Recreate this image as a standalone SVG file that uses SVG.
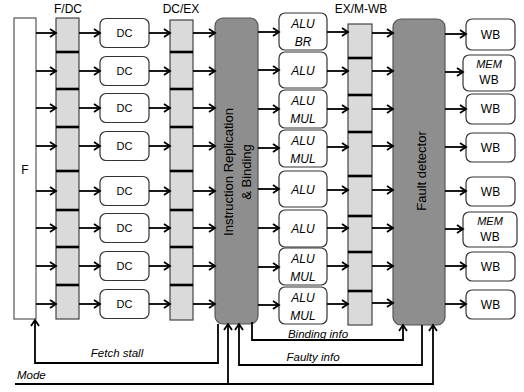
<svg xmlns="http://www.w3.org/2000/svg" width="524" height="392" viewBox="0 0 524 392">
<style>
text{font-family:"Liberation Sans",Arial,sans-serif;fill:#000}
.lbl{font-size:12px;text-anchor:middle}
.box{fill:#fff;stroke:#333;stroke-width:1.2}
.reg{fill:#dadada;stroke:#444;stroke-width:1.2}
.div{stroke:#000;stroke-width:2.6}
.big{fill:#8e8e8e;stroke:#555;stroke-width:1.2}
.t11{font-size:11px;text-anchor:middle}
.t12{font-size:12px;text-anchor:middle}
.it{font-style:italic}
.rt{font-size:13px;text-anchor:middle}
.ln{fill:none;stroke:#000;stroke-width:1.8}
.ar{marker-end:url(#ah)}
</style>
<defs>
<marker id="ah" markerWidth="10" markerHeight="10" refX="7.5" refY="5" orient="auto" markerUnits="userSpaceOnUse">
<path d="M1.5,1 L7.5,5 L1.5,9" fill="none" stroke="#000" stroke-width="1.8"/>
</marker>
</defs>

<g id="labels">
<text class="lbl" x="68" y="13">F/DC</text>
<text class="lbl" x="181" y="13">DC/EX</text>
<text class="lbl" x="361" y="13">EX/M-WB</text>
</g>

<g id="F">
<rect x="14" y="18" width="22" height="301" fill="#fff" stroke="#555" stroke-width="1.2"/>
<text class="t12" x="25" y="174">F</text>
</g>

<g id="FDC">
<rect class="reg" x="56" y="18" width="23" height="301"/>
<line class="div" x1="56" x2="79" y1="52" y2="52"/>
<line class="div" x1="56" x2="79" y1="89" y2="89"/>
<line class="div" x1="56" x2="79" y1="127" y2="127"/>
<line class="div" x1="56" x2="79" y1="171" y2="171"/>
<line class="div" x1="56" x2="79" y1="210" y2="210"/>
<line class="div" x1="56" x2="79" y1="247" y2="247"/>
<line class="div" x1="56" x2="79" y1="285" y2="285"/>
</g>

<g id="DC1"><rect class="box" x="100" y="18.5" width="49" height="29" rx="6"/><text class="t11" x="124.5" y="37">DC</text></g>
<g id="DC2"><rect class="box" x="100" y="56.5" width="49" height="29" rx="6"/><text class="t11" x="124.5" y="75">DC</text></g>
<g id="DC3"><rect class="box" x="100" y="93.5" width="49" height="29" rx="6"/><text class="t11" x="124.5" y="112">DC</text></g>
<g id="DC4"><rect class="box" x="100" y="131.5" width="49" height="29" rx="6"/><text class="t11" x="124.5" y="150">DC</text></g>
<g id="DC5"><rect class="box" x="100" y="176.5" width="49" height="29" rx="6"/><text class="t11" x="124.5" y="195">DC</text></g>
<g id="DC6"><rect class="box" x="100" y="213.5" width="49" height="29" rx="6"/><text class="t11" x="124.5" y="232">DC</text></g>
<g id="DC7"><rect class="box" x="100" y="251.5" width="49" height="29" rx="6"/><text class="t11" x="124.5" y="270">DC</text></g>
<g id="DC8"><rect class="box" x="100" y="289.5" width="49" height="29" rx="6"/><text class="t11" x="124.5" y="308">DC</text></g>

<g id="DCEX">
<rect class="reg" x="170" y="20" width="23" height="300"/>
<line class="div" x1="170" x2="193" y1="52" y2="52"/>
<line class="div" x1="170" x2="193" y1="89" y2="89"/>
<line class="div" x1="170" x2="193" y1="127" y2="127"/>
<line class="div" x1="170" x2="193" y1="171" y2="171"/>
<line class="div" x1="170" x2="193" y1="210" y2="210"/>
<line class="div" x1="170" x2="193" y1="247" y2="247"/>
<line class="div" x1="170" x2="193" y1="285" y2="285"/>
</g>

<g id="IRB">
<rect class="big" x="215" y="18" width="43" height="306" rx="8"/>
<text class="rt" transform="translate(233,172) rotate(-90)">Instruction Replication</text>
<text class="rt" transform="translate(251,172) rotate(-90)">&amp; Binding</text>
</g>

<g id="ALU1"><rect class="box" x="279" y="13" width="48" height="37" rx="6"/><text class="t12 it" x="303" y="28">ALU</text><text class="t12 it" x="303" y="46">BR</text></g>
<g id="ALU2"><rect class="box" x="279" y="52" width="48" height="36" rx="6"/><text class="t12 it" x="303" y="75">ALU</text></g>
<g id="ALU3"><rect class="box" x="279" y="90" width="48" height="38" rx="6"/><text class="t12 it" x="303" y="105">ALU</text><text class="t12 it" x="303" y="123">MUL</text></g>
<g id="ALU4"><rect class="box" x="279" y="130" width="48" height="37" rx="6"/><text class="t12 it" x="303" y="145">ALU</text><text class="t12 it" x="303" y="163">MUL</text></g>
<g id="ALU5"><rect class="box" x="279" y="171" width="48" height="36" rx="6"/><text class="t12 it" x="303" y="194">ALU</text></g>
<g id="ALU6"><rect class="box" x="279" y="210" width="48" height="37" rx="6"/><text class="t12 it" x="303" y="233">ALU</text></g>
<g id="ALU7"><rect class="box" x="279" y="248" width="48" height="37" rx="6"/><text class="t12 it" x="303" y="263">ALU</text><text class="t12 it" x="303" y="281">MUL</text></g>
<g id="ALU8"><rect class="box" x="279" y="287" width="48" height="37" rx="6"/><text class="t12 it" x="303" y="302">ALU</text><text class="t12 it" x="303" y="320">MUL</text></g>

<g id="EXMWB">
<rect class="reg" x="348" y="24" width="24" height="301"/>
<line class="div" x1="348" x2="372" y1="58" y2="58"/>
<line class="div" x1="348" x2="372" y1="95" y2="95"/>
<line class="div" x1="348" x2="372" y1="132" y2="132"/>
<line class="div" x1="348" x2="372" y1="176" y2="176"/>
<line class="div" x1="348" x2="372" y1="216" y2="216"/>
<line class="div" x1="348" x2="372" y1="252" y2="252"/>
<line class="div" x1="348" x2="372" y1="291" y2="291"/>
</g>

<g id="FD">
<rect class="big" x="393" y="19" width="52" height="306" rx="8"/>
<text class="rt" transform="translate(426,171) rotate(-90)">Fault detector</text>
</g>

<g id="WB1"><rect class="box" x="466" y="19" width="49" height="31" rx="6"/><text class="t12" x="490.5" y="39">WB</text></g>
<g id="WB2"><rect class="box" x="463" y="55" width="52" height="36" rx="6"/><text class="t11 it" x="489" y="68">MEM</text><text class="t12" x="489" y="84">WB</text></g>
<g id="WB3"><rect class="box" x="466" y="94" width="49" height="30" rx="6"/><text class="t12" x="490.5" y="113">WB</text></g>
<g id="WB4"><rect class="box" x="466" y="133" width="49" height="29" rx="6"/><text class="t12" x="490.5" y="152">WB</text></g>
<g id="WB5"><rect class="box" x="466" y="177" width="49" height="29" rx="6"/><text class="t12" x="490.5" y="196">WB</text></g>
<g id="WB6"><rect class="box" x="463" y="212" width="54" height="35" rx="6"/><text class="t11 it" x="490" y="225">MEM</text><text class="t12" x="490" y="241">WB</text></g>
<g id="WB7"><rect class="box" x="466" y="252" width="49" height="29" rx="6"/><text class="t12" x="490.5" y="271">WB</text></g>
<g id="WB8"><rect class="box" x="466" y="290" width="49" height="29" rx="6"/><text class="t12" x="490.5" y="309">WB</text></g>

<g id="connectors">
<line class="ln ar" x1="36" y1="33" x2="56" y2="33"/>
<line class="ln ar" x1="36" y1="71" x2="56" y2="71"/>
<line class="ln ar" x1="36" y1="108" x2="56" y2="108"/>
<line class="ln ar" x1="36" y1="146" x2="56" y2="146"/>
<line class="ln ar" x1="36" y1="191" x2="56" y2="191"/>
<line class="ln ar" x1="36" y1="228" x2="56" y2="228"/>
<line class="ln ar" x1="36" y1="266" x2="56" y2="266"/>
<line class="ln ar" x1="36" y1="304" x2="56" y2="304"/>
<line class="ln ar" x1="79" y1="33" x2="100" y2="33"/>
<line class="ln ar" x1="79" y1="71" x2="100" y2="71"/>
<line class="ln ar" x1="79" y1="108" x2="100" y2="108"/>
<line class="ln ar" x1="79" y1="146" x2="100" y2="146"/>
<line class="ln ar" x1="79" y1="191" x2="100" y2="191"/>
<line class="ln ar" x1="79" y1="228" x2="100" y2="228"/>
<line class="ln ar" x1="79" y1="266" x2="100" y2="266"/>
<line class="ln ar" x1="79" y1="304" x2="100" y2="304"/>
<line class="ln ar" x1="149" y1="33" x2="170" y2="33"/>
<line class="ln ar" x1="149" y1="71" x2="170" y2="71"/>
<line class="ln ar" x1="149" y1="108" x2="170" y2="108"/>
<line class="ln ar" x1="149" y1="146" x2="170" y2="146"/>
<line class="ln ar" x1="149" y1="191" x2="170" y2="191"/>
<line class="ln ar" x1="149" y1="228" x2="170" y2="228"/>
<line class="ln ar" x1="149" y1="266" x2="170" y2="266"/>
<line class="ln ar" x1="149" y1="304" x2="170" y2="304"/>
<line class="ln ar" x1="193" y1="33" x2="215" y2="33"/>
<line class="ln ar" x1="193" y1="71" x2="215" y2="71"/>
<line class="ln ar" x1="193" y1="108" x2="215" y2="108"/>
<line class="ln ar" x1="193" y1="146" x2="215" y2="146"/>
<line class="ln ar" x1="193" y1="191" x2="215" y2="191"/>
<line class="ln ar" x1="193" y1="228" x2="215" y2="228"/>
<line class="ln ar" x1="193" y1="266" x2="215" y2="266"/>
<line class="ln ar" x1="193" y1="304" x2="215" y2="304"/>
<line class="ln ar" x1="258" y1="32" x2="279" y2="32"/>
<line class="ln ar" x1="258" y1="70" x2="279" y2="70"/>
<line class="ln ar" x1="258" y1="109" x2="279" y2="109"/>
<line class="ln ar" x1="258" y1="148" x2="279" y2="148"/>
<line class="ln ar" x1="258" y1="189" x2="279" y2="189"/>
<line class="ln ar" x1="258" y1="228" x2="279" y2="228"/>
<line class="ln ar" x1="258" y1="267" x2="279" y2="267"/>
<line class="ln ar" x1="258" y1="305" x2="279" y2="305"/>
<line class="ln ar" x1="327" y1="32" x2="348" y2="32"/>
<line class="ln ar" x1="327" y1="71" x2="348" y2="71"/>
<line class="ln ar" x1="327" y1="109" x2="348" y2="109"/>
<line class="ln ar" x1="327" y1="147" x2="348" y2="147"/>
<line class="ln ar" x1="327" y1="190" x2="348" y2="190"/>
<line class="ln ar" x1="327" y1="228" x2="348" y2="228"/>
<line class="ln ar" x1="327" y1="266" x2="348" y2="266"/>
<line class="ln ar" x1="327" y1="304" x2="348" y2="304"/>
<line class="ln ar" x1="372" y1="33" x2="393" y2="33"/>
<line class="ln ar" x1="372" y1="71" x2="393" y2="71"/>
<line class="ln ar" x1="372" y1="109" x2="393" y2="109"/>
<line class="ln ar" x1="372" y1="146" x2="393" y2="146"/>
<line class="ln ar" x1="372" y1="190" x2="393" y2="190"/>
<line class="ln ar" x1="372" y1="228" x2="393" y2="228"/>
<line class="ln ar" x1="372" y1="266" x2="393" y2="266"/>
<line class="ln ar" x1="372" y1="303" x2="393" y2="303"/>
<line class="ln ar" x1="445" y1="34" x2="466" y2="34"/>
<line class="ln ar" x1="445" y1="72" x2="463" y2="72"/>
<line class="ln ar" x1="445" y1="109" x2="466" y2="109"/>
<line class="ln ar" x1="445" y1="147" x2="466" y2="147"/>
<line class="ln ar" x1="445" y1="191" x2="466" y2="191"/>
<line class="ln ar" x1="445" y1="229" x2="463" y2="229"/>
<line class="ln ar" x1="445" y1="266" x2="466" y2="266"/>
<line class="ln ar" x1="445" y1="304" x2="466" y2="304"/>
<path class="ln ar" d="M218,324V363H35V320"/>
<path class="ln ar" d="M15,384H433V325"/>
<path class="ln ar" d="M228,384V324"/>
<path class="ln ar" d="M422,325V365H239V324"/>
<path class="ln ar" d="M252,322V340H403V325"/>
</g>

<g id="conn-labels">
<text class="t12 it" style="font-size:11.5px" x="117" y="357">Fetch stall</text>
<text class="t12 it" style="font-size:11.5px" x="318" y="338">Binding info</text>
<text class="t12 it" style="font-size:11.5px" x="313" y="361">Faulty info</text>
<text class="it" style="font-size:11.5px" x="17" y="379">Mode</text>
</g>
</svg>
